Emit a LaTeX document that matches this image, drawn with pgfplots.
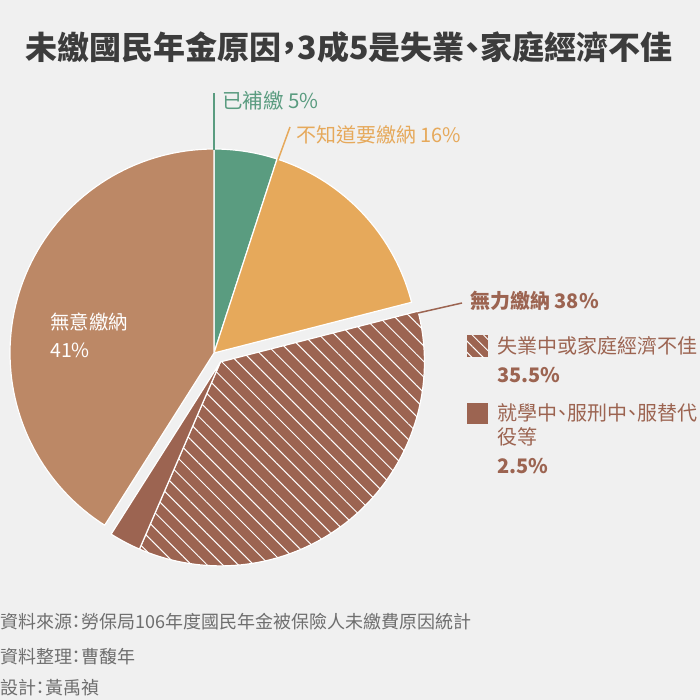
\documentclass[border=0pt]{standalone}
\usepackage{pgfplots}
\pgfplotsset{compat=1.18}
\usepackage{fontspec}
\setmainfont{Noto Sans CJK TC}[RawFeature=+palt]
\usetikzlibrary{patterns.meta}
\definecolor{bg}{HTML}{F0F0F0}
\definecolor{cGreen}{HTML}{5A9C80}
\definecolor{cOrange}{HTML}{E6A95B}
\definecolor{cBrownL}{HTML}{BC8866}
\definecolor{cBrownD}{HTML}{9C6451}
\definecolor{cTitle}{HTML}{3C3C3C}
\definecolor{cFoot}{HTML}{6E6E6E}
% data (percent)
\def\vA{5}    % 已補繳
\def\vB{16}   % 不知道要繳納
\def\vC{35.5} % 失業中或家庭經濟不佳
\def\vD{2.5}  % 就學中、服刑中、服替代役等
\def\vE{41}   % 無意繳納
\pgfmathsetmacro\aA{0}
\pgfmathsetmacro\aB{\aA+3.6*\vA}
\pgfmathsetmacro\aC{\aB+3.6*\vB}
\pgfmathsetmacro\aD{\aC+3.6*\vC}
\pgfmathsetmacro\aE{\aD+3.6*\vD}
\pgfmathsetmacro\aF{\aE+3.6*\vE}
\def\cx{214}\def\cy{353}\def\R{204}
\pgfmathsetmacro\mid{(\aC+\aE)/2}
\pgfmathsetmacro\ex{\cx+11*sin(\mid)}
\pgfmathsetmacro\ey{\cy-11*cos(\mid)}
\begin{document}
\begin{tikzpicture}
\begin{axis}[width=700pt,height=700pt,scale only axis,
  xmin=0,xmax=700,ymin=0,ymax=700,y dir=reverse,
  hide axis,clip=false,no markers]
\fill[bg] (rel axis cs:0,0) rectangle (rel axis cs:1,1);
% slices
\addplot[fill=cGreen,draw=white,line width=1.2pt,line join=round,domain=\aA:\aB,samples=20,variable=\t]
  ({\cx+\R*sin(t)},{\cy-\R*cos(t)}) -- (\cx,\cy) -- cycle;
\addplot[fill=cOrange,draw=white,line width=1.2pt,line join=round,domain=\aB:\aC,samples=40,variable=\t]
  ({\cx+\R*sin(t)},{\cy-\R*cos(t)}) -- (\cx,\cy) -- cycle;
\addplot[fill=cBrownL,draw=white,line width=1.2pt,line join=round,domain=\aE:\aF,samples=80,variable=\t]
  ({\cx+\R*sin(t)},{\cy-\R*cos(t)}) -- (\cx,\cy) -- cycle;
\addplot[fill=cBrownD,draw=none,domain=\aC:\aD,samples=80,variable=\t]
  ({\ex+\R*sin(t)},{\ey-\R*cos(t)}) -- (\ex,\ey) -- cycle;
\addplot[pattern={Lines[angle=-45,distance=11pt,line width=1pt]},pattern color=white,draw=white,line width=1.2pt,line join=round,domain=\aC:\aD,samples=80,variable=\t]
  ({\ex+\R*sin(t)},{\ey-\R*cos(t)}) -- (\ex,\ey) -- cycle;
\addplot[fill=cBrownD,draw=white,line width=1.2pt,line join=round,domain=\aD:\aE,samples=10,variable=\t]
  ({\ex+\R*sin(t)},{\ey-\R*cos(t)}) -- (\ex,\ey) -- cycle;
% leader lines
\addplot[cGreen,line width=1.5pt] coordinates {(214,150) (214,93)};
\addplot[cOrange,line width=1.5pt] coordinates {(278,160) (290,127)};
\addplot[cBrownD,line width=1.5pt] coordinates {(418,313) (462,303)};
% legend keys
\addplot[fill=cBrownD,draw=none] coordinates {(467,335) (488,335) (488,357) (467,357)} -- cycle;
\addplot[pattern={Lines[angle=-45,distance=8pt,line width=1pt]},pattern color=white,draw=none] coordinates {(467,335) (488,335) (488,357) (467,357)} -- cycle;
\addplot[fill=cBrownD,draw=none] coordinates {(467,403) (488,403) (488,424) (467,424)} -- cycle;
% texts
\node[font=\bfseries\fontsize{32}{38}\selectfont,text=cTitle,inner sep=0] at (axis cs:349,47) {未繳國民年金原因，3成5是失業、家庭經濟不佳};
\node[font=\fontsize{20.5}{24}\selectfont,text=cGreen,anchor=west,inner sep=0] at (axis cs:222,101) {已補繳 5\%};
\node[font=\fontsize{20}{24}\selectfont,text=cOrange,anchor=west,inner sep=0] at (axis cs:296,135) {不知道要繳納 16\%};
\node[font=\bfseries\fontsize{20}{24}\selectfont,text=cBrownD,anchor=west,inner sep=0] at (axis cs:470,301) {無力繳納 38\%};
\node[font=\fontsize{20}{24}\selectfont,text=cBrownD,anchor=west,inner sep=0] at (axis cs:497,346) {失業中或家庭經濟不佳};
\node[font=\bfseries\fontsize{20}{24}\selectfont,text=cBrownD,anchor=west,inner sep=0] at (axis cs:497,375) {35.5\%};
\node[font=\fontsize{20}{24}\selectfont,text=cBrownD,anchor=west,inner sep=0] at (axis cs:497,413) {就學中、服刑中、服替代};
\node[font=\fontsize{20}{24}\selectfont,text=cBrownD,anchor=west,inner sep=0] at (axis cs:497,437) {役等};
\node[font=\bfseries\fontsize{20}{24}\selectfont,text=cBrownD,anchor=west,inner sep=0] at (axis cs:497,466) {2.5\%};
\node[font=\fontsize{19.5}{23}\selectfont,text=white,anchor=west,inner sep=0] at (axis cs:50,322) {無意繳納};
\node[font=\fontsize{19.5}{23}\selectfont,text=white,anchor=west,inner sep=0] at (axis cs:50,350) {41\%};
\node[font=\fontsize{18}{22}\selectfont,text=cFoot,anchor=west,inner sep=0] at (axis cs:0,622) {資料來源：勞保局106年度國民年金被保險人未繳費原因統計};
\node[font=\fontsize{18}{22}\selectfont,text=cFoot,anchor=west,inner sep=0] at (axis cs:0,657) {資料整理：曹馥年};
\node[font=\fontsize{18}{22}\selectfont,text=cFoot,anchor=west,inner sep=0] at (axis cs:0,688) {設計：黃禹禎};
\end{axis}
\end{tikzpicture}
\end{document}
